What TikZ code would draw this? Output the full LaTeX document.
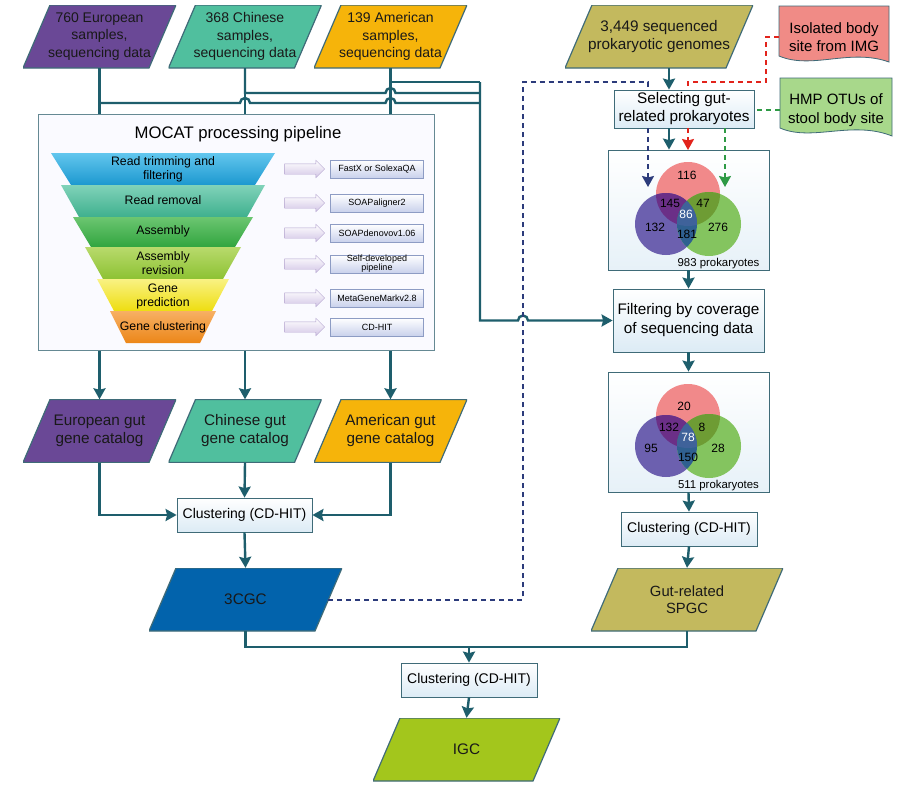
\documentclass[tikz,border=0pt]{standalone}
\usepackage{fontspec}
\setmainfont{Liberation Sans}
\usepackage{xcolor}
\usepackage{tikz}
\usetikzlibrary{shapes.geometric, shapes.arrows, arrows.meta, calc}

\definecolor{linkteal}{HTML}{1E5E6C}
\definecolor{boxedge}{HTML}{3F6B78}
\definecolor{boxfill}{HTML}{DCEBF5}
\definecolor{europurple}{HTML}{6A4896}
\definecolor{chinateal}{HTML}{50BF9E}
\definecolor{ameryellow}{HTML}{F6B40A}
\definecolor{olivegold}{HTML}{C3B95E}
\definecolor{cgcblue}{HTML}{0263AC}
\definecolor{igcgreen}{HTML}{A3C61C}
\definecolor{imgred}{HTML}{F08B86}
\definecolor{hmpgreen}{HTML}{A8D88B}
\definecolor{dashblue}{HTML}{2C3B7B}
\definecolor{dashred}{HTML}{E2231B}
\definecolor{dashgreen}{HTML}{2E9A45}
\definecolor{vennred}{HTML}{F1898A}
\definecolor{vennblue}{HTML}{6C60AF}
\definecolor{venngreen}{HTML}{84C45F}
\definecolor{vennrb}{HTML}{6B2F87}
\definecolor{vennrg}{HTML}{6E9C34}
\definecolor{vennbg}{HTML}{2F6090}
\definecolor{venncore}{HTML}{3F629A}
\definecolor{toolfill}{HTML}{C9D1EC}
\definecolor{tooledge}{HTML}{8D9CC4}
\definecolor{pipefill}{HTML}{D3C6E6}
\definecolor{pipeedge}{HTML}{B4A4CF}
\definecolor{trimtop}{HTML}{62C6EE}
\definecolor{trimbot}{HTML}{1C98CF}
\definecolor{removetop}{HTML}{80D2B9}
\definecolor{removebot}{HTML}{3FB08E}
\definecolor{assemtop}{HTML}{6CC671}
\definecolor{assembot}{HTML}{31A53F}
\definecolor{revtop}{HTML}{B8DA6C}
\definecolor{revbot}{HTML}{8DC233}
\definecolor{predtop}{HTML}{F9F283}
\definecolor{predbot}{HTML}{EEDD10}
\definecolor{clusttop}{HTML}{F7B064}
\definecolor{clustbot}{HTML}{EC8618}

\begin{document}
\begin{tikzpicture}[x=1pt, y=-1pt, >={Stealth[length=11pt, width=12pt, inset=1.5pt]},
    conn/.style={line width=2.4pt, draw=linkteal},
    bluedash/.style={line width=2pt, draw=dashblue, dash pattern=on 5pt off 4pt},
    reddash/.style={line width=2pt, draw=dashred, dash pattern=on 5pt off 4pt},
    greendash/.style={line width=2pt, draw=dashgreen, dash pattern=on 5pt off 4pt},
    datanode/.style={rectangle, minimum width=153pt, minimum height=63pt, inner sep=1pt,
      align=center, text=black!90,
      path picture={\filldraw[fill=#1, draw=boxedge, line width=1.2pt]
        ([xshift=27pt]path picture bounding box.north west) -- (path picture bounding box.north east)
        -- ([xshift=-27pt]path picture bounding box.south east) -- (path picture bounding box.south west) -- cycle;}},
    procbox/.style={rectangle, draw=boxedge, line width=0.8pt, top color=white,
      bottom color=boxfill, align=center, inner sep=1pt},
    toolbox/.style={rectangle, draw=tooledge, line width=0.6pt, top color=white,
      bottom color=toolfill, minimum width=93pt, minimum height=18pt, inner sep=0pt,
      align=center, font=\fontsize{9}{9}\selectfont},
    pipearrow/.style={single arrow, draw=pipeedge, top color=white, bottom color=pipefill,
      minimum height=40pt, inner sep=5pt, single arrow head extend=3.5pt},
    stagetext/.style={align=center, font=\fontsize{12.3}{14}\selectfont},
    vennbox/.style={rectangle, draw=boxedge, line width=0.8pt, top color=white,
      bottom color=boxfill!70, minimum width=161pt, minimum height=120pt},
    vennnum/.style={font=\fontsize{12}{12}\selectfont, inner sep=0pt},
    docnode/.style={align=center, font=\fontsize{15}{18.5}\selectfont, inner sep=0pt}]
    %\draw[step=50, gray!30, very thin] (0,0) grid (901,787);

    \fill[white] (0,0) rectangle (901,787);
    \useasboundingbox (0,0) rectangle (901,787);

    % inputs
    \node[datanode=europurple, font=\fontsize{14}{17.5}\selectfont] (euin) at (99.5,36.5) {760 European\\samples,\\sequencing data};
    \node[datanode=chinateal, font=\fontsize{14}{17.5}\selectfont] (chin) at (245,36.5) {368 Chinese\\samples,\\sequencing data};
    \node[datanode=ameryellow, font=\fontsize{14}{17.5}\selectfont] (amin) at (390.5,36.5) {139 American\\samples,\\sequencing data};
    \node[datanode=olivegold, minimum width=188pt, font=\fontsize{15.3}{18.3}\selectfont] (genomes) at (659,36.5) {3,449 sequenced\\prokaryotic genomes};

    % MOCAT pipeline
    \node[rectangle, draw=boxedge!80, line width=1pt, fill=blue!2, minimum width=396pt, minimum height=236pt] (mocat) at (236,232) {};
    \node[font=\fontsize{16.7}{18}\selectfont] (mocattitle) at (238,134) {MOCAT processing pipeline};

    \shade[top color=trimtop, bottom color=trimbot] (51,153) -- (275,153) -- (255,185) -- (71,185) -- cycle;
    \shade[top color=removetop, bottom color=removebot] (61,185) -- (265,185) -- (247,217) -- (79,217) -- cycle;
    \shade[top color=assemtop, bottom color=assembot] (73,217) -- (253,217) -- (235,247) -- (91,247) -- cycle;
    \shade[top color=revtop, bottom color=revbot] (85,247) -- (241,247) -- (223,279) -- (103,279) -- cycle;
    \shade[top color=predtop, bottom color=predbot] (97,279) -- (229,279) -- (212,311) -- (114,311) -- cycle;
    \shade[top color=clusttop, bottom color=clustbot] (110,311) -- (216,311) -- (200,343) -- (126,343) -- cycle;

    \node[stagetext] (stage1) at (163,169) {Read trimming and\\filtering};
    \node[stagetext] (stage2) at (163,200) {Read removal};
    \node[stagetext] (stage3) at (163,231) {Assembly};
    \node[stagetext] (stage4) at (163,263) {Assembly\\revision};
    \node[stagetext] (stage5) at (163,296) {Gene\\prediction};
    \node[stagetext] (stage6) at (163,327) {Gene clustering};

    \node[pipearrow] (pipe1) at (302,169) {};
    \node[pipearrow] (pipe2) at (302,203) {};
    \node[pipearrow] (pipe3) at (302,233) {};
    \node[pipearrow] (pipe4) at (302,264) {};
    \node[pipearrow] (pipe5) at (302,298) {};
    \node[pipearrow] (pipe6) at (302,327) {};

    \node[toolbox] (tool1) at (377,169) {FastX or SolexaQA};
    \node[toolbox] (tool2) at (377,203) {SOAPaligner2};
    \node[toolbox] (tool3) at (377,233) {SOAPdenovov1.06};
    \node[toolbox] (tool4) at (377,264) {Self-developed\\pipeline};
    \node[toolbox] (tool5) at (377,298) {MetaGeneMarkv2.8};
    \node[toolbox] (tool6) at (377,327) {CD-HIT};

    % catalogs
    \node[datanode=europurple, font=\fontsize{15.3}{18}\selectfont] (eucat) at (99.5,431) {European gut\\gene catalog};
    \node[datanode=chinateal, font=\fontsize{15.3}{18}\selectfont] (chcat) at (245,431) {Chinese gut\\gene catalog};
    \node[datanode=ameryellow, font=\fontsize{15.3}{18}\selectfont] (amcat) at (390.5,431) {American gut\\gene catalog};

    \node[procbox, minimum width=135pt, minimum height=34pt, font=\fontsize{14}{16}\selectfont] (clustera) at (244.5,515) {Clustering (CD-HIT)};
    \node[datanode=cgcblue, minimum width=193pt, font=\fontsize{15.3}{18}\selectfont] (cgc) at (245.5,599.5) {3CGC};

    % prokaryote side
    \fill[imgred, draw=boxedge, line width=0.8pt] (779,6) -- (889,6) -- (889,62) .. controls (850,48) and (812,70) .. (779,56) -- cycle;
    \node[docnode, minimum width=110pt] (img) at (834,37) {Isolated body\\site from IMG};
    \fill[hmpgreen, draw=boxedge, line width=0.8pt] (780,78) -- (892,78) -- (892,136) .. controls (852,120) and (812,142) .. (780,128) -- cycle;
    \node[docnode, minimum width=112pt] (hmp) at (836,110) {HMP OTUs of\\stool body site};

    \node[procbox, minimum width=140pt, minimum height=38pt, font=\fontsize{15.3}{18}\selectfont] (select) at (684,109) {Selecting gut-\\related prokaryotes};

    \node[vennbox] (venna) at (688.5,210) {};
    \fill[vennred] (688,194) circle (32);
    \fill[vennblue] (666,224) circle (31);
    \fill[venngreen] (709,224) circle (32);
    \begin{scope}
      \clip (688,194) circle (32);
      \fill[vennrb] (666,224) circle (31);
      \fill[vennrg] (709,224) circle (32);
    \end{scope}
    \begin{scope}
      \clip (666,224) circle (31);
      \fill[vennbg] (709,224) circle (32);
    \end{scope}
    \begin{scope}
      \clip (688,194) circle (32);
      \clip (666,224) circle (31);
      \fill[venncore] (709,224) circle (32);
    \end{scope}
    \node[vennnum] (a116) at (687,175) {116};
    \node[vennnum] (a145) at (670,203) {145};
    \node[vennnum] (a47) at (703,203) {47};
    \node[vennnum, text=white] (a86) at (686,214) {86};
    \node[vennnum] (a132) at (655,227) {132};
    \node[vennnum] (a181) at (687,234) {181};
    \node[vennnum] (a276) at (718,227) {276};
    \node[font=\fontsize{11.4}{12}\selectfont, inner sep=0pt] (counta) at (718.5,264) {983 prokaryotes};

    \node[procbox, minimum width=151pt, minimum height=63pt, font=\fontsize{15.3}{19}\selectfont] (filter) at (688.5,320.5) {Filtering by coverage\\of sequencing data};

    \node[vennbox] (vennb) at (688.5,432) {};
    \fill[vennred] (688,416) circle (32);
    \fill[vennblue] (666,446) circle (31);
    \fill[venngreen] (709,446) circle (32);
    \begin{scope}
      \clip (688,416) circle (32);
      \fill[vennrb] (666,446) circle (31);
      \fill[vennrg] (709,446) circle (32);
    \end{scope}
    \begin{scope}
      \clip (666,446) circle (31);
      \fill[vennbg] (709,446) circle (32);
    \end{scope}
    \begin{scope}
      \clip (688,416) circle (32);
      \clip (666,446) circle (31);
      \fill[venncore] (709,446) circle (32);
    \end{scope}
    \node[vennnum] (b20) at (684,406) {20};
    \node[vennnum] (b132) at (669,427) {132};
    \node[vennnum] (b8) at (702,427) {8};
    \node[vennnum, text=white] (b78) at (688,437) {78};
    \node[vennnum] (b95) at (651,448) {95};
    \node[vennnum] (b150) at (688,457) {150};
    \node[vennnum] (b28) at (718,448) {28};
    \node[font=\fontsize{11.4}{12}\selectfont, inner sep=0pt] (countb) at (718.5,486) {511 prokaryotes};

    \node[procbox, minimum width=136pt, minimum height=34pt, font=\fontsize{14}{16}\selectfont] (clusterb) at (689,529) {Clustering (CD-HIT)};
    \node[datanode=olivegold, minimum width=192pt, font=\fontsize{14.8}{17}\selectfont] (spgc) at (687,599.5) {Gut-related\\SPGC};

    % merge
    \node[procbox, minimum width=136pt, minimum height=34pt, font=\fontsize{14}{16}\selectfont] (clusterc) at (469,680) {Clustering (CD-HIT)};
    \node[datanode=igcgreen, minimum width=187pt, font=\fontsize{15.3}{18}\selectfont] (igc) at (466.5,749.5) {IGC};

    \coordinate (hub1) at (480,82);
    \coordinate (hub2) at (480,93);
    \coordinate (hub3) at (480,103);
    \coordinate (dashtop) at (523,82);
    \coordinate (bluetip) at (648,187);
    \coordinate (greentip) at (725,187);
    \coordinate (redtip) at (688,150);
    \coordinate (redturn) at (766,82);
    \coordinate (trunk) at (669,0);
    \coordinate (merge) at (469,647);

    % inputs to MOCAT and to filtering
    \draw[conn] (euin.south) -- (euin.south |- mocat.north);
    \draw[conn] (chin.south) -- (chin.south |- mocat.north);
    \draw[conn] (amin.south) -- (amin.south |- mocat.north);
    \draw[conn] (amin.south) |- (hub1);
    \draw[conn] (chin.south) |- ([xshift=-5pt]amin.south |- hub2) arc (180:360:5) -- (hub2);
    \draw[conn] (euin.south) |- ([xshift=-5pt]chin.south |- hub3) arc (180:360:5) -- ([xshift=-5pt]amin.south |- hub3) arc (180:360:5) -- (hub3);
    \draw[conn, ->] (hub1) -- (hub1 |- filter.west) -- ([xshift=-5pt]dashtop |- filter.west) arc (180:360:5) -- (filter.west);

    % MOCAT to catalogs
    \draw[conn, ->] (eucat.north |- mocat.south) -- (eucat.north);
    \draw[conn, ->] (chcat.north |- mocat.south) -- (chcat.north);
    \draw[conn, ->] (amcat.north |- mocat.south) -- (amcat.north);
    \draw[conn, ->] (eucat.south) |- (clustera.west);
    \draw[conn, ->] (chcat.south) -- (clustera.north);
    \draw[conn, ->] (amcat.south) |- (clustera.east);
    \draw[conn, ->] (clustera.south) -- (cgc.north);

    % genomes side
    \draw[conn, ->] (genomes.south -| trunk) -- (select.north -| trunk);
    \draw[conn, ->] (select.south -| trunk) -- (venna.north -| trunk);
    \draw[conn, ->] (venna.south) -- (filter.north);
    \draw[conn, ->] (filter.south) -- (vennb.north);
    \draw[conn, ->] (vennb.south) -- (clusterb.north);
    \draw[conn, ->] (clusterb.south) -- (spgc.north);

    \draw[bluedash] ([xshift=-14pt]cgc.east) -| (dashtop) -| (bluetip |- select.north);
    \draw[bluedash, ->] (bluetip |- select.south) -- (bluetip);
    \draw[reddash] (img.west) -| (redturn) -| (redtip |- select.north);
    \draw[reddash, ->] (redtip |- select.south) -- (redtip);
    \draw[greendash] (hmp.west) -- (hmp.west -| select.east);
    \draw[greendash, ->] (greentip |- select.south) -- (greentip);

    % final merge
    \draw[conn] (cgc.south) |- (spgc.south |- merge) -- (spgc.south);
    \draw[conn, ->] (merge) -- (clusterc.north);
    \draw[conn, ->] (clusterc.south) -- (igc.north);

  \end{tikzpicture}
\end{document}
